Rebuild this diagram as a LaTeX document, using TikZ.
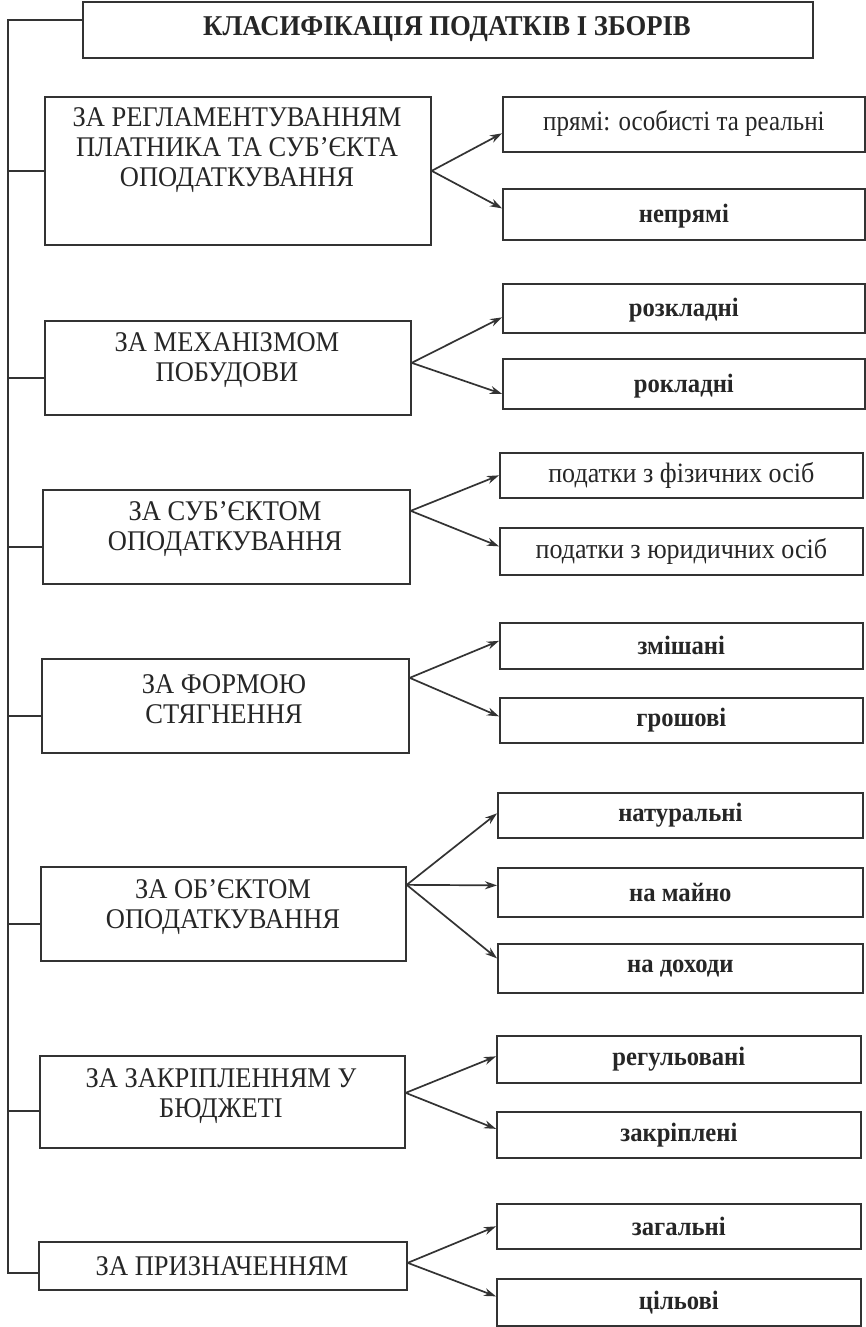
\documentclass[tikz,border=0pt]{standalone}
\usepackage{fontspec}
\setmainfont{Liberation Serif}
\newfontfamily\narrowserif[FakeStretch=0.93]{Liberation Serif}
\usetikzlibrary{arrows.meta,calc}
\begin{document}
\begin{tikzpicture}[x=1pt,y=-1pt,
  ln/.style={line width=1.7pt,draw=black!80},
  arr/.style={ln,-{Stealth[length=12pt,width=8pt]}},
  lbox/.style={ln,rectangle,inner sep=0pt,anchor=north west},
  ltxt/.style={font=\narrowserif\fontsize{28.5}{30}\selectfont,align=center,inner sep=0pt,text=black!85},
  rtxt/.style={font=\narrowserif\fontsize{28}{30}\selectfont,inner sep=0pt,text=black!85},
  rbtxt/.style={font=\narrowserif\fontsize{26.5}{30}\selectfont\bfseries,inner sep=0pt,text=black!85}]
\useasboundingbox (0,0) rectangle (866,1327);
\fill[white] (0,0) rectangle (866,1327);
% title
\node[lbox,minimum width=730pt,minimum height=56pt] (t) at (82,1) {};
\node[font=\narrowserif\fontsize{28.7}{30}\selectfont\bfseries,inner sep=0pt,text=black!85] (tt) at (447,29) {КЛАСИФІКАЦІЯ ПОДАТКІВ І ЗБОРІВ};
% left boxes
\node[lbox,minimum width=386pt,minimum height=148pt] (b1) at (44,96) {};
\node[ltxt] (b1t) at (237,150) {ЗА РЕГЛАМЕНТУВАННЯМ\\ПЛАТНИКА ТА СУБ’ЄКТА\\ОПОДАТКУВАННЯ};
\node[lbox,minimum width=366pt,minimum height=94pt] (b2) at (44,320) {};
\node[ltxt] (b2t) at (227,360) {ЗА МЕХАНІЗМОМ\\ПОБУДОВИ};
\node[lbox,minimum width=367pt,minimum height=94pt] (b3) at (42,489) {};
\node[ltxt] (b3t) at (225,529) {ЗА СУБ’ЄКТОМ\\ОПОДАТКУВАННЯ};
\node[lbox,minimum width=367pt,minimum height=94pt] (b4) at (41,658) {};
\node[ltxt] (b4t) at (224,699) {ЗА ФОРМОЮ\\СТЯГНЕННЯ};
\node[lbox,minimum width=365pt,minimum height=94pt] (b5) at (40,866) {};
\node[ltxt] (b5t) at (223,907) {ЗА ОБ’ЄКТОМ\\ОПОДАТКУВАННЯ};
\node[lbox,minimum width=365pt,minimum height=92pt] (b6) at (39,1055) {};
\node[ltxt] (b6t) at (221,1096) {ЗА ЗАКРІПЛЕННЯМ У\\БЮДЖЕТІ};
\node[lbox,minimum width=368pt,minimum height=48pt] (b7) at (38,1241) {};
\node[ltxt] (b7t) at (222,1266) {ЗА ПРИЗНАЧЕННЯМ};
% right boxes
\node[lbox,minimum width=362pt,minimum height=55pt] (r1) at (502,96) {};
\node[rtxt] at ([yshift=1pt]r1.center) {\scalebox{0.96}[1]{прямі: особисті та реальні}};
\node[lbox,minimum width=362pt,minimum height=51pt] (r2) at (502,188) {};
\node[rbtxt] at ([yshift=-2pt]r2.center) {непрямі};
\node[lbox,minimum width=362pt,minimum height=49pt] (r3) at (502,283) {};
\node[rbtxt] at ([yshift=-2pt]r3.center) {розкладні};
\node[lbox,minimum width=362pt,minimum height=50pt] (r4) at (502,358) {};
\node[rbtxt] at ([yshift=-2pt]r4.center) {рокладні};
\node[lbox,minimum width=363pt,minimum height=45pt] (r5) at (499,452) {};
\node[rtxt] at (r5.center) {податки з фізичних осіб};
\node[lbox,minimum width=363pt,minimum height=47pt] (r6) at (499,527) {};
\node[rtxt] at (r6.center) {податки з юридичних осіб};
\node[lbox,minimum width=363pt,minimum height=46pt] (r7) at (499,622) {};
\node[rbtxt] at (r7.center) {змішані};
\node[lbox,minimum width=363pt,minimum height=45pt] (r8) at (499,697) {};
\node[rbtxt] at (r8.center) {грошові};
\node[lbox,minimum width=365pt,minimum height=45pt] (r9) at (497,792) {};
\node[rbtxt] at (r9.center) {натуральні};
\node[lbox,minimum width=365pt,minimum height=49pt] (r10) at (497,867) {};
\node[rbtxt] at (r10.center) {на майно};
\node[lbox,minimum width=365pt,minimum height=49pt] (r11) at (497,943) {};
\node[rbtxt] at (r11.center) {на доходи};
\node[lbox,minimum width=364pt,minimum height=47pt] (r12) at (496,1035) {};
\node[rbtxt] at (r12.center) {регульовані};
\node[lbox,minimum width=364pt,minimum height=46pt] (r13) at (496,1111) {};
\node[rbtxt] at (r13.center) {закріплені};
\node[lbox,minimum width=364pt,minimum height=45pt] (r14) at (496,1203) {};
\node[rbtxt] at (r14.center) {загальні};
\node[lbox,minimum width=364pt,minimum height=47pt] (r15) at (496,1278) {};
\node[rbtxt] at (r15.center) {цільові};
% trunk
\coordinate (trunk) at (8,0);
\draw[ln] ([yshift=9.5pt]t.west) coordinate (j0) -- (j0 -| trunk) -- ([yshift=-7pt]b7.west -| trunk) -- ([yshift=-7pt]b7.west);
\draw[ln] (b1.west) -- (b1.west -| trunk);
\draw[ln] ([yshift=-10pt]b2.west) coordinate (j2) -- (j2 -| trunk);
\draw[ln] ([yshift=-10pt]b3.west) coordinate (j3) -- (j3 -| trunk);
\draw[ln] ([yshift=-10pt]b4.west) coordinate (j4) -- (j4 -| trunk);
\draw[ln] ([yshift=-10pt]b5.west) coordinate (j5) -- (j5 -| trunk);
\draw[ln] ([yshift=-9pt]b6.west) coordinate (j6) -- (j6 -| trunk);
% arrows
\draw[arr] (b1.east) -- ([yshift=-9pt]r1.west);
\draw[arr] (b1.east) -- ([yshift=6pt]r2.west);
\draw[arr] ([yshift=5pt]b2.east) -- ([yshift=-9pt]r3.west);
\draw[arr] ([yshift=5pt]b2.east) -- ([yshift=-10pt]r4.west);
\draw[arr] ([yshift=26pt]b3.east) -- (r5.west);
\draw[arr] ([yshift=26pt]b3.east) -- ([yshift=5pt]r6.west);
\draw[arr] ([yshift=28pt]b4.east) -- ([yshift=5pt]r7.west);
\draw[arr] ([yshift=28pt]b4.east) -- ([yshift=4pt]r8.west);
\draw[arr] ([yshift=29pt]b5.east) -- ([yshift=2pt]r9.west);
\draw[arr] ([yshift=29pt]b5.east) -- ([yshift=7pt]r10.west);
\draw[arr] ([yshift=29pt]b5.east) -- ([yshift=10pt]r11.west);
\draw[arr] ([yshift=9pt]b6.east) -- ([yshift=3pt]r12.west);
\draw[arr] ([yshift=9pt]b6.east) -- ([yshift=6pt]r13.west);
\draw[arr] ([yshift=3pt]b7.east) -- (r14.west);
\draw[arr] ([yshift=3pt]b7.east) -- ([yshift=6pt]r15.west);
\end{tikzpicture}
\end{document}
